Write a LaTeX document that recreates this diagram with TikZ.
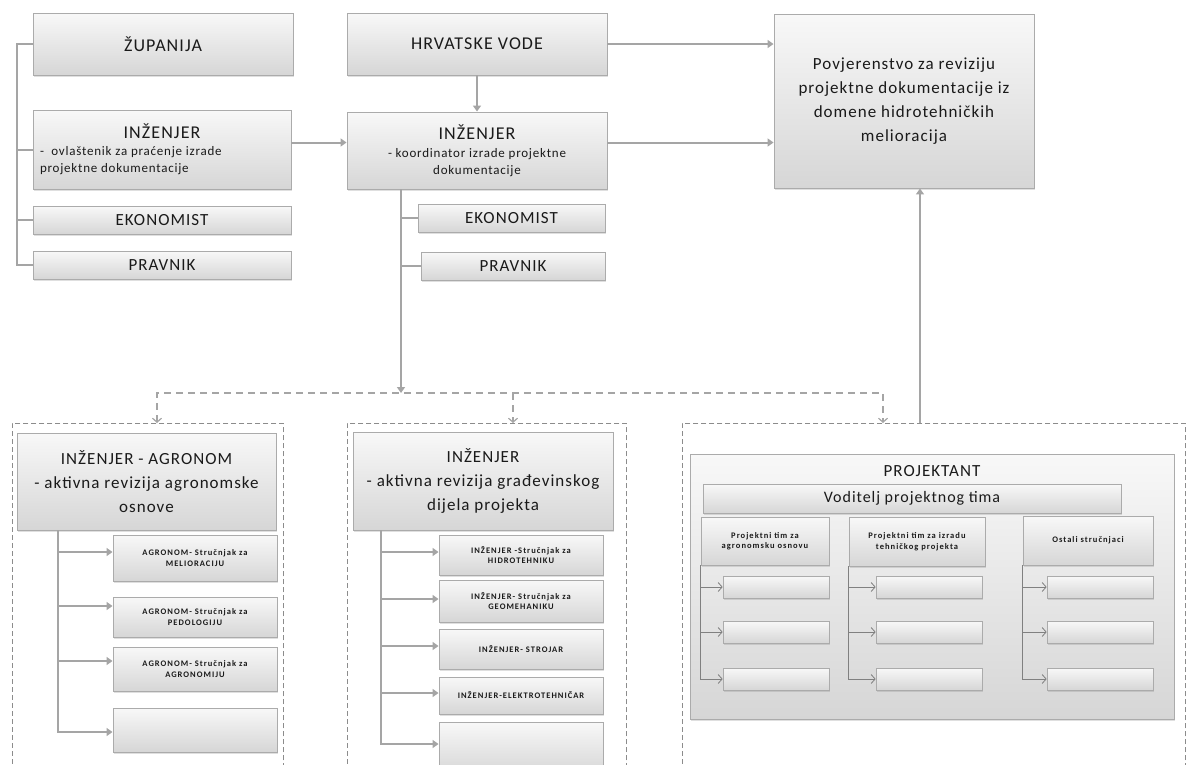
\documentclass[tikz,border=0pt]{standalone}
\usepackage{fontspec}
\setmainfont{Carlito}[LetterSpace=6]
\newfontfamily\expertfam{Carlito}[LetterSpace=12]
\usetikzlibrary{arrows.meta,shadows}

\definecolor{boxline}{HTML}{ABABAB}
\definecolor{boxtop}{HTML}{F8F8F8}
\definecolor{boxbot}{HTML}{D6D6D6}
\definecolor{linegray}{HTML}{A5A5A5}
\definecolor{dashgray}{HTML}{8C8C8C}
\definecolor{textgray}{HTML}{1A1A1A}

\newcommand\fTitle{\fontsize{18}{22}\selectfont}
\newcommand\fCap{\fontsize{17}{21}\selectfont}
\newcommand\fSub{\fontsize{13}{17}\selectfont}
\newcommand\fMid{\fontsize{17}{24}\selectfont}
\newcommand\fVod{\fontsize{16}{20}\selectfont}
\newcommand\fExpert{\expertfam\bfseries\fontsize{8.5}{10.5}\selectfont}

\begin{document}
\begin{tikzpicture}[x=1pt, y=-1pt, >={Triangle[length=6pt,width=8pt]}]

    \tikzset{%
    orgbox/.style 2 args={
        draw=boxline,
        line width=0.9pt,
        top color=boxtop,
        bottom color=boxbot,
        drop shadow={shadow xshift=1pt, shadow yshift=-1.5pt, opacity=0.25},
        inner sep=0pt,
        align=center,
        text=textgray,
        minimum width=#1pt,
        minimum height=#2pt
        },
    dashgroup/.style 2 args={
        draw=dashgray,
        line width=0.9pt,
        dash pattern=on 5pt off 3pt,
        inner sep=0pt,
        minimum width=#1pt,
        minimum height=#2pt
        },
    link/.style={draw=linegray, line width=2pt},
    dashlink/.style={draw=linegray, line width=1.5pt, dash pattern=on 7pt off 5pt},
    dashtip/.tip={Straight Barb[length=4pt,width=9pt,line width=1.2pt]},
    thinlink/.style={draw=gray, line width=0.8pt, -{Straight Barb[length=4pt,width=9pt]}},
    }

    \useasboundingbox (0,0) rectangle (1188,764);
    \clip (0,0) rectangle (1188,764);

    % Top row
    \node [orgbox={260}{62}, font=\fTitle] (zupanija) at (163,44) {ŽUPANIJA};
    \node [orgbox={260}{62}, font=\fTitle] (vode) at (477,44) {HRVATSKE VODE};
    \node [orgbox={260}{174}, font=\fMid] (povjerenstvo) at (904,101)
    {Povjerenstvo za reviziju\\projektne dokumentacije iz\\domene hidrotehničkih\\melioracija};

    % Left column
    \node [orgbox={258}{79}] (ovlastenik) at (162,149.5)
    {\parbox{244pt}{\centering\fTitle INŽENJER\par\raggedright\fSub -\ \ ovlaštenik za praćenje izrade\\projektne dokumentacije}};
    \node [orgbox={258}{28}, font=\fCap] (ekonomist-1) at (162,220) {EKONOMIST};
    \node [orgbox={258}{28}, font=\fCap] (pravnik-1) at (162,265) {PRAVNIK};

    % Middle column
    \node [orgbox={260}{77}, font=\fSub] (koordinator) at (477,150.5)
    {{\fTitle INŽENJER}\\[1pt]- koordinator izrade projektne\\dokumentacije};
    \node [orgbox={187}{28}, font=\fCap] (ekonomist-2) at (511.5,218) {EKONOMIST};
    \node [orgbox={184}{28}, font=\fCap] (pravnik-2) at (513,266) {PRAVNIK};

    % Dashed groups
    \node [dashgroup={271}{370}, anchor=north west] (agr-group) at (12,423) {};
    \node [dashgroup={279}{370}, anchor=north west] (gra-group) at (347,423) {};
    \node [dashgroup={503}{370}, anchor=north west] (pro-group) at (682,423) {};

    % Agronom group
    \node [orgbox={259}{97}, font=\fMid] (agronom) at (146.5,481.5)
    {INŽENJER - AGRONOM\\- aktivna revizija agronomske\\osnove};
    \foreach \t/\yc/\h [count=\i] in {{AGRONOM- Stručnjak za\\MELIORACIJU}/558/46,
                                      {AGRONOM- Stručnjak za\\PEDOLOGIJU}/617/40,
                                      {AGRONOM- Stručnjak za\\AGRONOMIJU}/669/44,
                                      {}/730/44}
    \node [orgbox={164}{\h}, font=\fExpert] (agr-\i) at (195,\yc) {\t};

    % Gradjevinski group
    \node [orgbox={260}{98}, font=\fMid] (gradevinski) at (483,481)
    {INŽENJER\\- aktivna revizija građevinskog\\dijela projekta};
    \foreach \t/\yc/\h [count=\i] in {{INŽENJER -Stručnjak za\\HIDROTEHNIKU}/555/40,
                                      {INŽENJER- Stručnjak za\\GEOMEHANIKU}/601/42,
                                      {INŽENJER- STROJAR}/649/40,
                                      {INŽENJER-ELEKTROTEHNIČAR}/695.5/37,
                                      {}/748.5/53}
    \node [orgbox={164}{\h}, font=\fExpert] (gra-\i) at (521,\yc) {\t};

    % Projektant group
    \node [orgbox={484}{265}] (projektant) at (932,586.5) {};
    \node [text=textgray, font=\fCap] (projektant-title) at (932,471) {PROJEKTANT};
    \node [orgbox={418}{29}, font=\fVod] (voditelj) at (912,498.5) {Voditelj projektnog tima};
    \node [orgbox={128}{48}, font=\fExpert] (tim-1) at (765,541) {Projektni tim za\\agronomsku osnovu};
    \node [orgbox={136}{49}, font=\fExpert] (tim-2) at (917,541.5) {Projektni tim za izradu\\tehničkog projekta};
    \node [orgbox={130}{49}, font=\fExpert] (tim-3) at (1088,540.5) {Ostali stručnjaci};
    \foreach \m/\xc in {1/776, 2/929, 3/1100}
    \foreach \r/\yc in {1/587, 2/632, 3/679}
    \node [orgbox={106}{22}, line width=0.7pt] (clan-\m-\r) at (\xc,\yc) {};

    % Top connectors
    \draw [link] (zupanija.west) -- ++(-16,0) |- (pravnik-1.west);
    \foreach \n in {ovlastenik, ekonomist-1}
    \draw [link] (\n.west) -- (\n.west -| 17,0);
    \draw [link,->] (vode) -- (koordinator);
    \draw [link,->] ([yshift=7pt]ovlastenik.east) -- ([yshift=7pt]ovlastenik.east -| koordinator.west);
    \draw [link,->] (vode.east) -- (vode.east -| povjerenstvo.west);
    \draw [link,->] ([yshift=8pt]koordinator.east) -- ([yshift=8pt]koordinator.east -| povjerenstvo.west);
    \draw [link,->] (pro-group.north -| 920,0) -- (povjerenstvo.south -| 920,0);

    % Middle spine and dashed split
    \coordinate (split) at (401,393);
    \coordinate (drop-1) at (157,393);
    \coordinate (drop-2) at (513,393);
    \coordinate (drop-3) at (883,393);
    \draw [link,->] (koordinator.south -| split) -- (split);
    \foreach \n in {ekonomist-2, pravnik-2}
    \draw [link] (\n.west) -- (\n.west -| split);
    \draw [dashlink, dashtip-dashtip] (agr-group.north -| drop-1) -- (drop-1) -- (drop-3) -- (pro-group.north -| drop-3);
    \draw [dashlink, -dashtip] (drop-2) -- (gra-group.north -| drop-2);

    % Agronom arrows
    \coordinate (agr-spine) at (58,0);
    \draw [link,->] (agronom.south -| agr-spine) |- (agr-4.west |- 0,732);
    \foreach \ya [count=\i] in {552,606,661}
    \draw [link,->] (agr-spine |- 0,\ya) -- (agr-\i.west |- 0,\ya);

    % Gradjevinski arrows
    \coordinate (gra-spine) at (381,0);
    \draw [link,->] (gradevinski.south -| gra-spine) |- (gra-5.west |- 0,744);
    \foreach \ya [count=\i] in {552,599,646,693}
    \draw [link,->] (gra-spine |- 0,\ya) -- (gra-\i.west |- 0,\ya);

    % Team arrows
    \foreach \m in {1,2,3} {
    \draw [thinlink] (tim-\m.south west) |- (clan-\m-3.west);
    \foreach \r in {1,2}
    \draw [thinlink] (tim-\m.south west |- clan-\m-\r.west) -- (clan-\m-\r.west);
    }

\end{tikzpicture}
\end{document}
